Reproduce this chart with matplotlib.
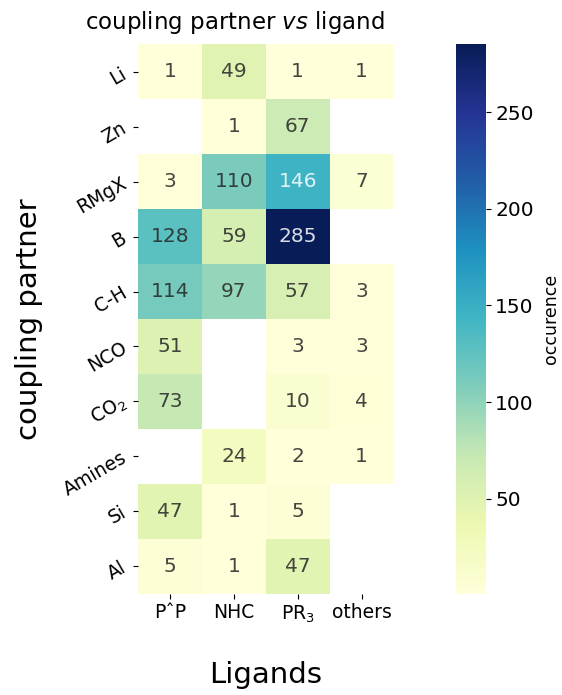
import numpy as np
import pandas as pd
import matplotlib
matplotlib.use("Agg")
import matplotlib.pyplot as plt
import seaborn as sns

# coupling partners (rows) and ligand classes (columns)
partners = ["Li", "Zn", "RMgX", "B", "C-H", "NCO", "CO$_2$", "Amines", "Si", "Al"]
ligands = ["P\u02c6P", "NHC", "PR$_3$", "others"]

pp = [1, np.nan, 3, 128, 114, 51, 73, np.nan, 47, 5]
nhc = [49, 1, 110, 59, 97, np.nan, np.nan, 24, 1, 1]
pr3 = [1, 67, 146, 285, 57, 3, 10, 2, 5, 47]
others = [1, np.nan, 7, np.nan, 3, 3, 4, 1, np.nan, np.nan]

df = pd.DataFrame({ligands[0]: pp, ligands[1]: nhc, ligands[2]: pr3, ligands[3]: others},
                  index=partners)

fig = plt.figure(figsize=(5.62, 6.95), dpi=100)
ax = fig.add_axes([0.246, 0.146, 0.454, 0.790])
cax = fig.add_axes([0.812, 0.146, 0.052, 0.790])

sns.heatmap(df, ax=ax, cbar_ax=cax, cmap="YlGnBu", annot=True, fmt="g",
            annot_kws={"fontsize": 14.5, "alpha": 0.85})

cax.set_ylabel("occurence", fontsize=12.5, labelpad=6)
cax.tick_params(labelsize=14.5)
cax.set_yticks([50, 100, 150, 200, 250])

# title sits a bit left of the heatmap centre in the original
ax.set_title("coupling partner $\\it{vs}$ ligand", fontsize=16.5, pad=11, x=0.38)
ax.set_ylabel("coupling partner", fontsize=21, labelpad=12)
ax.set_xlabel("Ligands", fontsize=21, labelpad=26)
ax.tick_params(axis="both", labelsize=13.5)
ax.tick_params(axis="y", pad=6)
plt.setp(ax.get_yticklabels(), rotation=30, ha="right", rotation_mode="anchor")
plt.setp(ax.get_xticklabels(), rotation=0)

fig.savefig("out.png", dpi=100)
